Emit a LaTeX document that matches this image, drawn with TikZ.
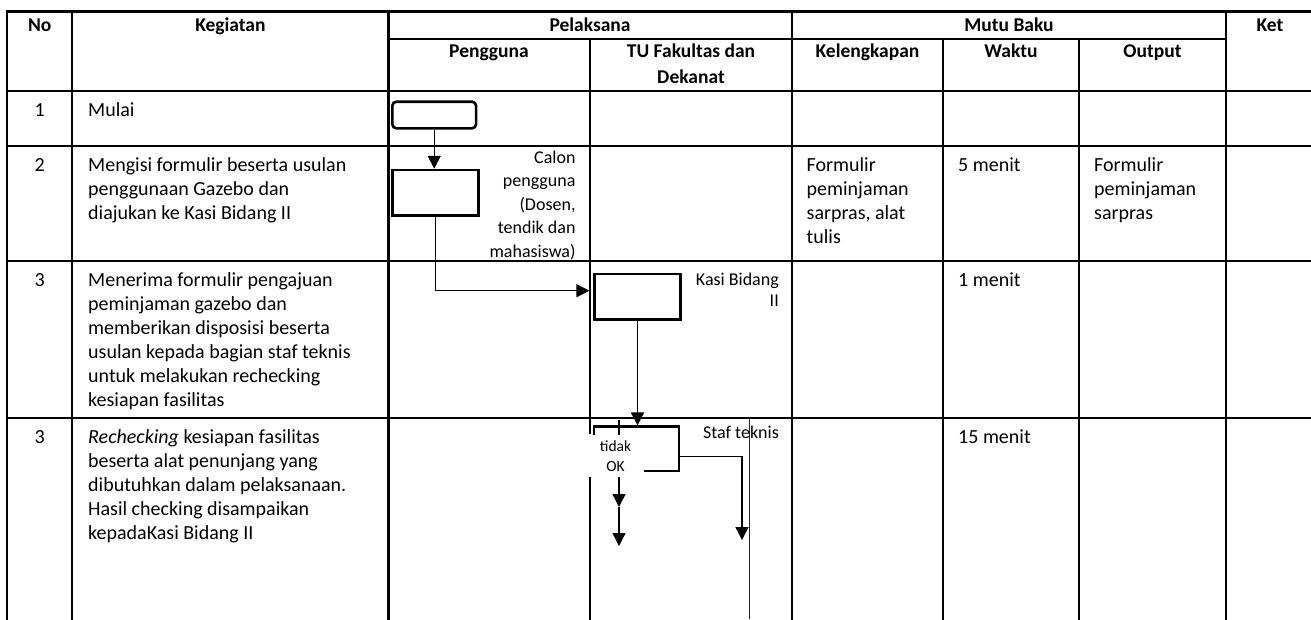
\documentclass[tikz,border=0pt]{standalone}
\usepackage{fontspec}
\setmainfont{Carlito}
\usetikzlibrary{arrows.meta,calc}

\newcommand\cellfont{\fontsize{20}{24}\selectfont}
\newcommand\headfont{\fontsize{19.5}{25.5}\selectfont\bfseries}
\newcommand\notefont{\fontsize{18}{23.5}\selectfont}
\newcommand\lanefont{\fontsize{18}{21}\selectfont}
\newcommand\okfont{\fontsize{15.5}{20}\selectfont}

\begin{document}
\begin{tikzpicture}[x=1pt,y=-1pt,>={Triangle[length=13pt,width=13pt]},
  grid/.style={line width=2.2pt,line cap=rect},
  cell/.style={anchor=north west,inner sep=0pt,align=left,font=\cellfont,execute at begin node=\strut},
  numcell/.style={anchor=north,inner sep=0pt,font=\cellfont,execute at begin node=\strut},
  head/.style={anchor=north,inner sep=0pt,align=center,font=\headfont,execute at begin node=\strut},
  note/.style={anchor=north east,inner sep=0pt,align=right,execute at begin node=\strut},
  box/.style={draw,line width=2.6pt,inner sep=0pt},
  flow/.style={->,line width=1.4pt}]
  \useasboundingbox (0,0) rectangle (1311,619);

  % table
  \foreach \x in {7.3,72.3,388.5,792,1226}
    \draw[grid] (\x,11.5) -- (\x,619);
  \foreach \x in {943,1079}
    \draw[grid] (\x,39.3) -- (\x,619);
  \draw[grid] (590,39.3) -- (590,433) (590,476) -- (590,619);
  \draw[grid] (388.5,39.3) -- (1226,39.3);
  \foreach \y in {11.5,90.7,145.7,260.7,418.3}
    \draw[grid] (7.3,\y) -- (1311,\y);
  \draw[line width=0.8pt,black!85] (749.5,419) -- (749.5,619);

  % header
  \node[head] (no) at (39.8,13.8) {No};
  \node[head] (kegiatan) at (230.4,13.8) {Kegiatan};
  \node[head] (pelaksana) at (590,13.8) {Pelaksana};
  \node[head] (mutu) at (1009,13.8) {Mutu Baku};
  \node[head] (ket) at (1270,13.8) {Ket};
  \node[head] (pengguna) at (489,39.6) {Pengguna};
  \node[head] (tu) at (691,39.6) {\strut TU Fakultas dan\\Dekanat};
  \node[head] (lengkap) at (867.5,39.6) {Kelengkapan};
  \node[head] (waktu) at (1011,39.6) {Waktu};
  \node[head] (output) at (1152.5,39.6) {Output};

  % rows
  \node[numcell] (nA) at (39.8,99.2) {1};
  \node[cell] (kA) at (88,99.2) {Mulai};
  \node[numcell] (nB) at (39.8,154.2) {2};
  \node[cell] (kB) at (88,154.2) {\strut Mengisi formulir beserta usulan\\penggunaan Gazebo dan\\diajukan ke Kasi Bidang II};
  \node[cell] (lB) at (806.5,154.2) {\strut Formulir\\peminjaman\\sarpras, alat\\tulis};
  \node[cell] (wB) at (958,154.2) {5 menit};
  \node[cell] (oB) at (1094,154.2) {\strut Formulir\\peminjaman\\sarpras};
  \node[numcell] (nC) at (39.8,269.2) {3};
  \node[cell] (kC) at (88,269.2) {\strut Menerima formulir pengajuan\\peminjaman gazebo dan\\memberikan disposisi beserta\\usulan kepada bagian staf teknis\\untuk melakukan rechecking\\kesiapan fasilitas};
  \node[cell] (wC) at (958,269.2) {1 menit};
  \node[numcell] (nD) at (39.8,426.8) {3};
  \node[cell] (kD) at (88,426.8) {\strut\textit{Rechecking} kesiapan fasilitas\\beserta alat penunjang yang\\dibutuhkan dalam pelaksanaan.\\Hasil checking disampaikan\\kepadaKasi Bidang II};
  \node[cell] (wD) at (958,426.8) {15 menit};

  % flow
  \node[box,rounded corners=4pt,minimum width=83.7pt,minimum height=26.6pt] (mulai) at (434.2,115) {};
  \node[box,minimum width=86pt,minimum height=45.7pt] (isi) at (435.3,192.9) {};
  \node[box,minimum width=86.4pt,minimum height=45.3pt] (kasi) at (637.5,296.7) {};
  \node[box,minimum width=85pt,minimum height=44.3pt] (staf) at (636.5,448.9) {};
  \node[note,font=\notefont] (calon) at (575.7,146.5) {\strut Calon\\pengguna\\(Dosen,\\tendik dan\\mahasiswa)};
  \node[note,font=\lanefont] (kasilbl) at (779,271) {\strut Kasi Bidang\\II};
  \node[note,font=\lanefont] (staflbl) at (779,424) {Staf teknis};

  \coordinate (ttop) at (619,420);
  \coordinate (tmid) at (619,507);
  \coordinate (tend) at (619,546);
  \coordinate (rend) at (742,540);

  \draw[flow] (mulai.south) -- (mulai.south |- isi.north);
  \draw[flow] (isi.south) |- ($(kasi.west)+(-3.6,-6)$);
  \draw[flow] (kasi.south) -- (kasi.south |- staf.north);
  \draw[flow] ($(staf.east)+(0,7.4)$) -| (rend);
  \draw[flow] (ttop) -- (tmid);
  \draw[flow] (tmid) -- (tend);
  \node[fill=white,inner sep=0pt,minimum width=57pt,minimum height=42pt,align=center,font=\okfont] (ok) at (615.5,456) {tidak\\OK};
\end{tikzpicture}
\end{document}
